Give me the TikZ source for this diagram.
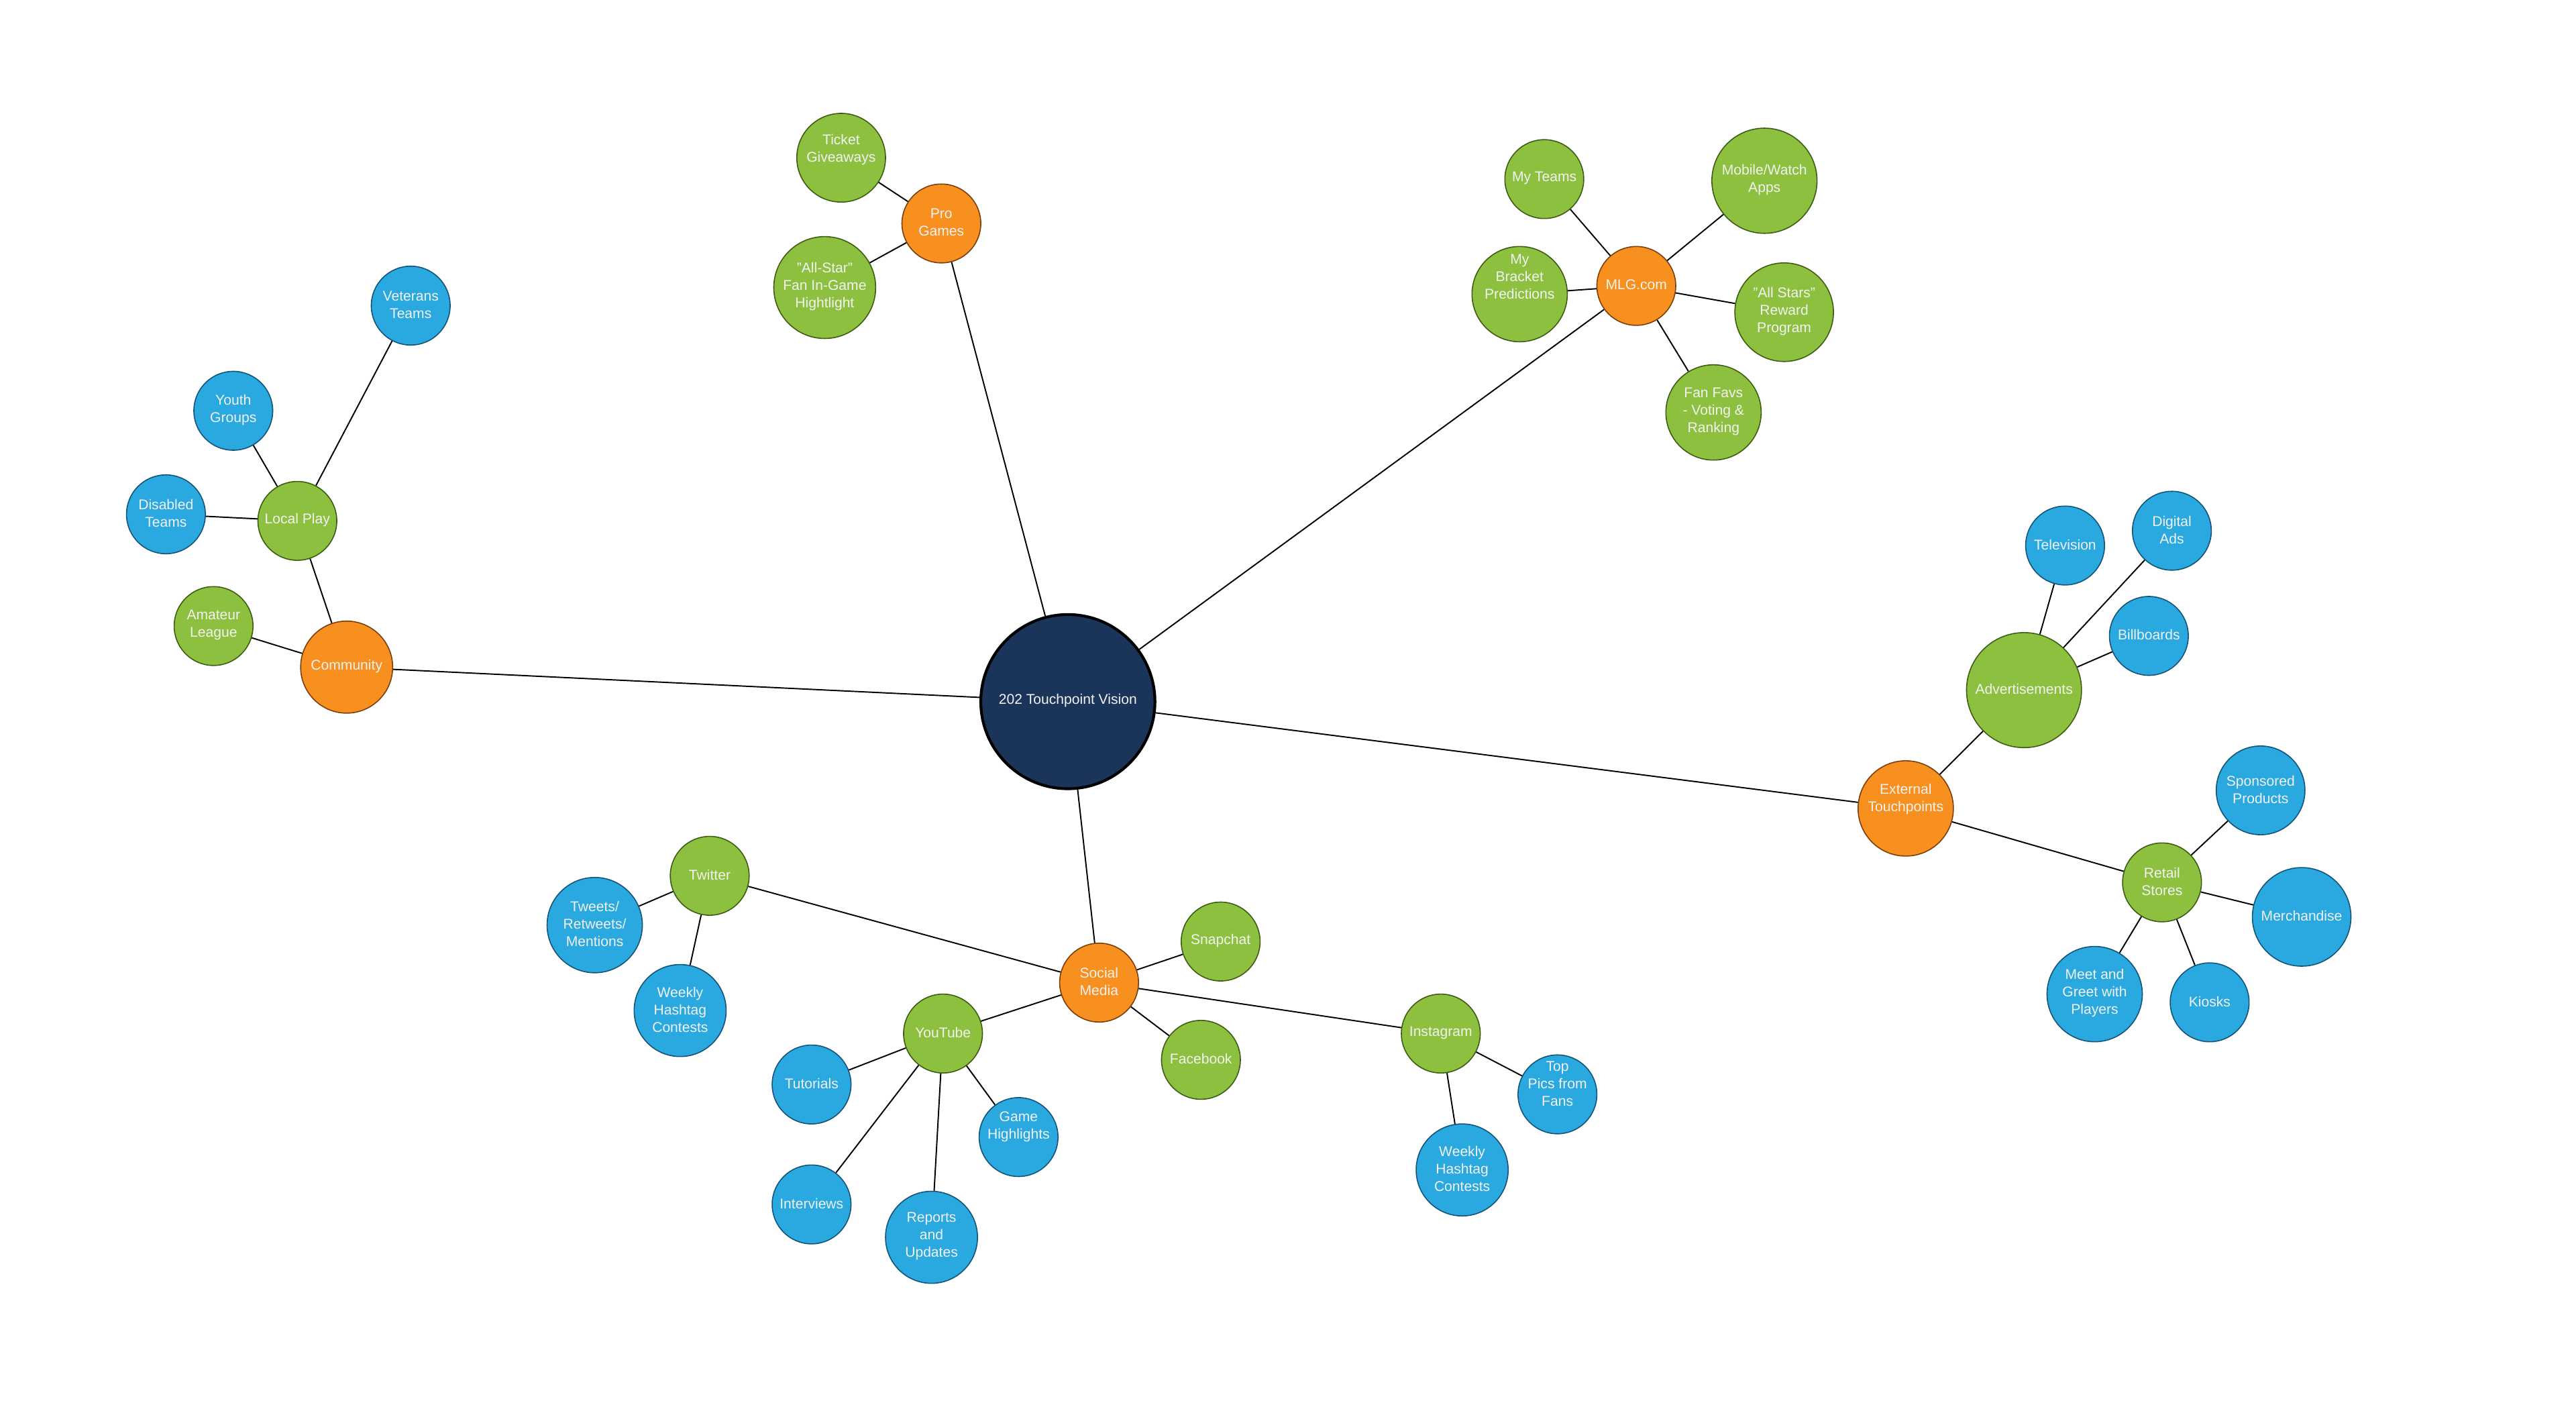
\documentclass[tikz,border=0pt]{standalone}
\usepackage{fontspec}
\setmainfont{Liberation Sans}
\definecolor{cOrange}{HTML}{F7901E}
\definecolor{cOrangeD}{HTML}{7A3E0C}
\definecolor{cGreen}{HTML}{8DC03F}
\definecolor{cGreenD}{HTML}{3D5C13}
\definecolor{cBlue}{HTML}{29A9E0}
\definecolor{cBlueD}{HTML}{145378}
\definecolor{cNavy}{HTML}{1B355A}
\definecolor{cText}{HTML}{F2F2F2}
\begin{document}
\begin{tikzpicture}[x=0.02449cm,y=-0.02449cm,
  rad/.style={minimum size={2*#1*0.02449cm}},
  bub/.style={circle,inner sep=0pt,line width=0.45pt},
  og/.style={bub,fill=cOrange,draw=cOrangeD},
  gr/.style={bub,fill=cGreen,draw=cGreenD},
  bl/.style={bub,fill=cBlue,draw=cBlueD},
  txt/.style={text=cText,align=center,font=\fontsize{6}{7.4}\selectfont,inner sep=0pt,yshift=0.4pt},
  link/.style={line width=0.55pt,black}]
\useasboundingbox (0,0) rectangle (1568,857.1);
% center
\node[bub,fill=cNavy,draw=black,line width=1.2pt,rad=53,label={[txt]center:202 Touchpoint Vision}] (c) at (650,427) {};
% community branch
\node[og,rad=28,label={[txt]center:Community}] (com) at (211,406) {};
\node[gr,rad=24,label={[txt]center:Amateur\\League}] (ama) at (130,381) {};
\node[gr,rad=24,label={[txt]center:Local Play}] (loc) at (181,317) {};
\node[bl,rad=24,label={[txt]center:Disabled\\Teams}] (dis) at (101,313) {};
\node[bl,rad=24,label={[txt]center:Youth\\Groups}] (you) at (142,250) {};
\node[bl,rad=24,label={[txt]center:Veterans\\Teams}] (vet) at (250,186) {};
% pro games
\node[og,rad=24,label={[txt]center:Pro\\Games}] (pro) at (573,136) {};
\node[gr,rad=27,label={[txt,yshift=3pt]center:Ticket\\Giveaways}] (tic) at (512,96) {};
\node[gr,rad=31,label={[txt]center:"All-Star"\\Fan In-Game\\Hightlight}] (ast) at (502,175) {};
% MLG
\node[og,rad=24,label={[txt]center:MLG.com}] (mlg) at (996,174) {};
\node[gr,rad=24,label={[txt]center:My Teams}] (myt) at (940,109) {};
\node[gr,rad=32,label={[txt]center:Mobile/Watch\\Apps}] (mob) at (1074,110) {};
\node[gr,rad=29,label={[txt,yshift=7pt]center:My\\Bracket\\Predictions}] (bra) at (925,179) {};
\node[gr,rad=30,label={[txt]center:"All Stars"\\Reward\\Program}] (ars) at (1086,190) {};
\node[gr,rad=29,label={[txt]center:Fan Favs\\- Voting \&\\Ranking}] (fan) at (1043,251) {};
% external
\node[og,rad=29,label={[txt,yshift=3.5pt]center:External\\Touchpoints}] (ext) at (1160,492) {};
\node[gr,rad=35,label={[txt]center:Advertisements}] (adv) at (1232,420) {};
\node[bl,rad=24,label={[txt]center:Television}] (tel) at (1257,332) {};
\node[bl,rad=24,label={[txt]center:Digital\\Ads}] (dig) at (1322,323) {};
\node[bl,rad=24,label={[txt]center:Billboards}] (bil) at (1308,387) {};
\node[gr,rad=24,label={[txt]center:Retail\\Stores}] (ret) at (1316,537) {};
\node[bl,rad=27,label={[txt]center:Sponsored\\Products}] (spo) at (1376,481) {};
\node[bl,rad=30,label={[txt]center:Merchandise}] (mer) at (1401,558) {};
\node[bl,rad=29,label={[txt]center:Meet and\\Greet with\\Players}] (mee) at (1275,605) {};
\node[bl,rad=24,label={[txt]center:Kiosks}] (kio) at (1345,610) {};
% social media
\node[og,rad=24,label={[txt]center:Social\\Media}] (soc) at (669,598) {};
\node[gr,rad=24,label={[txt]center:Snapchat}] (sna) at (743,573) {};
\node[gr,rad=24,label={[txt]center:Facebook}] (fac) at (731,645) {};
\node[gr,rad=24,label={[txt]center:Instagram}] (ins) at (877,629) {};
\node[bl,rad=24,label={[txt,yshift=4pt]center:Top\\Pics from\\Fans}] (top) at (948,666) {};
\node[bl,rad=28,label={[txt]center:Weekly\\Hashtag\\Contests}] (wki) at (890,712) {};
\node[gr,rad=24,label={[txt]center:YouTube}] (yt) at (574,629) {};
\node[bl,rad=24,label={[txt]center:Tutorials}] (tut) at (494,660) {};
\node[bl,rad=24,label={[txt]center:Interviews}] (int) at (494,733) {};
\node[bl,rad=28,label={[txt]center:Reports\\and\\Updates}] (rep) at (567,753) {};
\node[bl,rad=24,label={[txt,yshift=4pt]center:Game\\Highlights}] (gam) at (620,692) {};
\node[gr,rad=24,label={[txt]center:Twitter}] (twi) at (432,533) {};
\node[bl,rad=29,label={[txt]center:Tweets/\\Retweets/\\Mentions}] (twe) at (362,563) {};
\node[bl,rad=28,label={[txt]center:Weekly\\Hashtag\\Contests}] (wkt) at (414,615) {};
% connectors
\foreach \a/\b in {c/com,c/pro,c/mlg,c/ext,c/soc,
  com/ama,com/loc,loc/dis,loc/you,loc/vet,
  pro/tic,pro/ast,
  mlg/myt,mlg/mob,mlg/bra,mlg/ars,mlg/fan,
  ext/adv,ext/ret,adv/tel,adv/dig,adv/bil,
  ret/spo,ret/mer,ret/mee,ret/kio,
  soc/twi,soc/yt,soc/sna,soc/fac,soc/ins,
  twi/twe,twi/wkt,yt/tut,yt/int,yt/rep,yt/gam,ins/top,ins/wki}
  \draw[link] (\a) -- (\b);
\end{tikzpicture}
\end{document}
